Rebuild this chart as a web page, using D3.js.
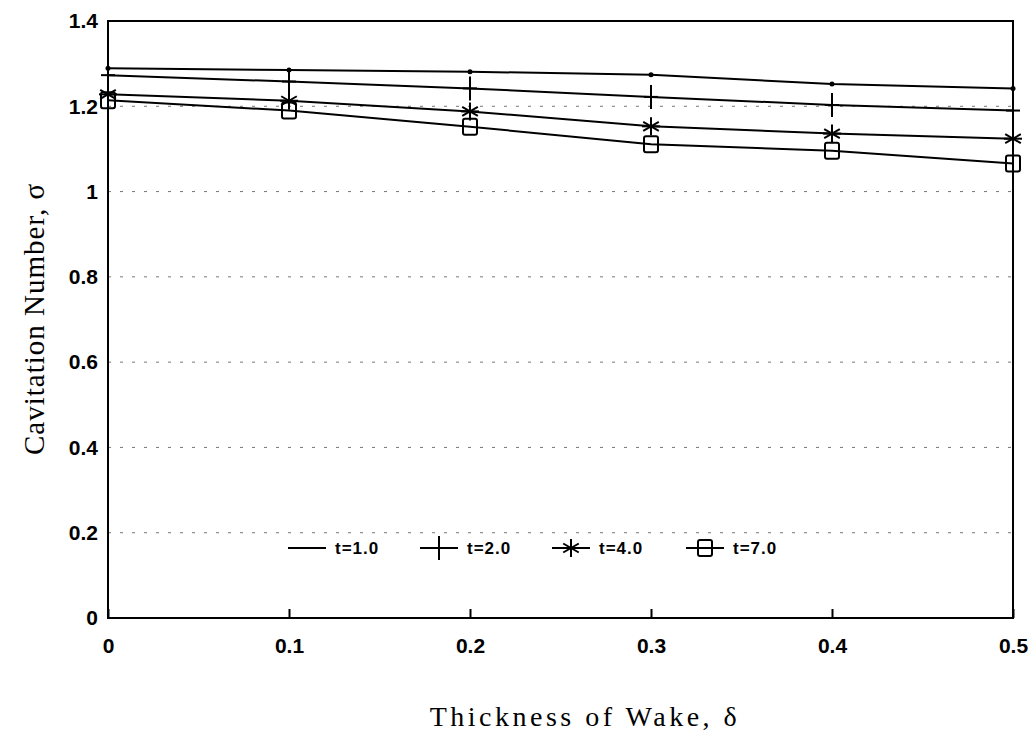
<!DOCTYPE html>
<html>
<head>
<meta charset="utf-8">
<script src="https://cdn.jsdelivr.net/npm/d3@7"></script>
<style>
  body { margin: 0; background: #fff; }
</style>
</head>
<body>
<div id="chart"></div>
<script>
// Data
const xValues = [0, 0.1, 0.2, 0.3, 0.4, 0.5];
const seriesNames = ["t=1.0", "t=2.0", "t=4.0", "t=7.0"];
const t1 = [1.289, 1.285, 1.281, 1.274, 1.252, 1.242];
const t2 = [1.273, 1.258, 1.242, 1.222, 1.203, 1.190];
const t4 = [1.228, 1.213, 1.188, 1.153, 1.136, 1.124];
const t7 = [1.214, 1.190, 1.152, 1.111, 1.096, 1.066];
const xTicks = [0, 0.1, 0.2, 0.3, 0.4, 0.5];
const yTicks = [0, 0.2, 0.4, 0.6, 0.8, 1, 1.2, 1.4];

const seriesData = [t1, t2, t4, t7];
const markerTypes = ["dot", "plus", "star", "square"];

const width = 1029, height = 740;
const margin = { top: 21, right: 16, bottom: 122, left: 108 };
const innerW = width - margin.left - margin.right;
const innerH = height - margin.top - margin.bottom;

const svg = d3.select("#chart").append("svg")
    .attr("width", width)
    .attr("height", height);

const plot = svg.append("g")
    .attr("transform", `translate(${margin.left},${margin.top})`);

const x = d3.scaleLinear().domain([0, 0.5]).range([0, innerW]);
const y = d3.scaleLinear().domain([0, 1.4]).range([innerH, 0]);

// faint broken gridlines like the scanned original
plot.append("g").selectAll("line")
    .data(yTicks.filter(d => d > 0 && d < 1.4))
    .enter().append("line")
    .attr("x1", 0).attr("x2", innerW)
    .attr("y1", d => y(d)).attr("y2", d => y(d))
    .attr("stroke", "#777")
    .attr("stroke-width", 1)
    .attr("stroke-dasharray", "3,9");

// frame
plot.append("rect")
    .attr("width", innerW).attr("height", innerH)
    .attr("fill", "none").attr("stroke", "#000").attr("stroke-width", 2);

// axes
const xAxis = plot.append("g")
    .attr("transform", `translate(0,${innerH})`)
    .call(d3.axisBottom(x).tickValues(xTicks).tickSize(-9).tickPadding(20)
        .tickFormat(d => d === 0 ? "0" : d3.format(".1f")(d)));
const yAxis = plot.append("g")
    .call(d3.axisLeft(y).tickValues(yTicks).tickSize(0).tickPadding(10)
        .tickFormat(d => d === 0 || d === 1 ? String(d) : d3.format(".1f")(d)));

[xAxis, yAxis].forEach(a => {
    a.select(".domain").remove();
    a.selectAll("line").attr("stroke", "#000").attr("stroke-width", 2);
    a.selectAll("text")
        .attr("fill", "#000")
        .style("font-family", "'Liberation Sans', Arial, sans-serif")
        .style("font-weight", "bold")
        .style("font-size", "21px");
});

// lines
const line = d3.line()
    .x((d, i) => x(xValues[i]))
    .y(d => y(d));

plot.selectAll(".series")
    .data(seriesData)
    .enter().append("path")
    .attr("class", "series")
    .attr("d", d => line(d))
    .attr("fill", "none")
    .attr("stroke", "#000")
    .attr("stroke-width", 2);

function drawMarker(g, type, cx, cy) {
    if (type === "dot") {
        g.append("circle").attr("cx", cx).attr("cy", cy).attr("r", 2.5).attr("fill", "#000").attr("stroke", "none");
    } else if (type === "plus") {
        g.append("line").attr("x1", cx).attr("x2", cx).attr("y1", cy - 12).attr("y2", cy + 12);
        g.append("line").attr("x1", cx - 7).attr("x2", cx + 7).attr("y1", cy).attr("y2", cy);
    } else if (type === "star") {
        const r = 9;
        [0, 60, 120].forEach(a => {
            const rad = a * Math.PI / 180;
            g.append("line")
                .attr("x1", cx - r * Math.sin(rad)).attr("y1", cy - r * Math.cos(rad))
                .attr("x2", cx + r * Math.sin(rad)).attr("y2", cy + r * Math.cos(rad));
        });
        g.append("line").attr("x1", cx - 9).attr("x2", cx + 9).attr("y1", cy).attr("y2", cy);
    } else if (type === "square") {
        g.append("rect").attr("x", cx - 7).attr("y", cy - 8).attr("width", 14).attr("height", 16)
            .attr("rx", 2).attr("fill", "none");
    }
}

seriesData.forEach((s, si) => {
    const g = plot.append("g").attr("stroke", "#000").attr("stroke-width", 2);
    s.forEach((v, i) => drawMarker(g, markerTypes[si], x(xValues[i]), y(v)));
});

// legend
const legendX = [288, 420, 552, 686];
const legendY = 548;
seriesNames.forEach((name, i) => {
    const g = svg.append("g").attr("stroke", "#000").attr("stroke-width", 2);
    g.append("line").attr("x1", legendX[i]).attr("x2", legendX[i] + 38)
        .attr("y1", legendY).attr("y2", legendY);
    if (markerTypes[i] !== "dot") drawMarker(g, markerTypes[i], legendX[i] + 19, legendY);
    svg.append("text")
        .attr("x", legendX[i] + 47).attr("y", legendY + 6)
        .style("font-family", "'Liberation Sans', Arial, sans-serif")
        .style("font-weight", "bold")
        .style("font-size", "17px")
        .style("letter-spacing", "1px")
        .text(name);
});

// axis titles
svg.append("text")
    .attr("x", 585)
    .attr("y", 726)
    .attr("text-anchor", "middle")
    .style("font-family", "'Liberation Serif', 'Times New Roman', serif")
    .style("font-size", "28px")
    .style("letter-spacing", "3.5px")
    .text("Thickness of Wake, δ");

svg.append("text")
    .attr("transform", `translate(44, 319) rotate(-90)`)
    .attr("text-anchor", "middle")
    .style("font-family", "'Liberation Serif', 'Times New Roman', serif")
    .style("font-size", "29px")
    .style("letter-spacing", "1px")
    .text("Cavitation Number, σ");
</script>
</body>
</html>
